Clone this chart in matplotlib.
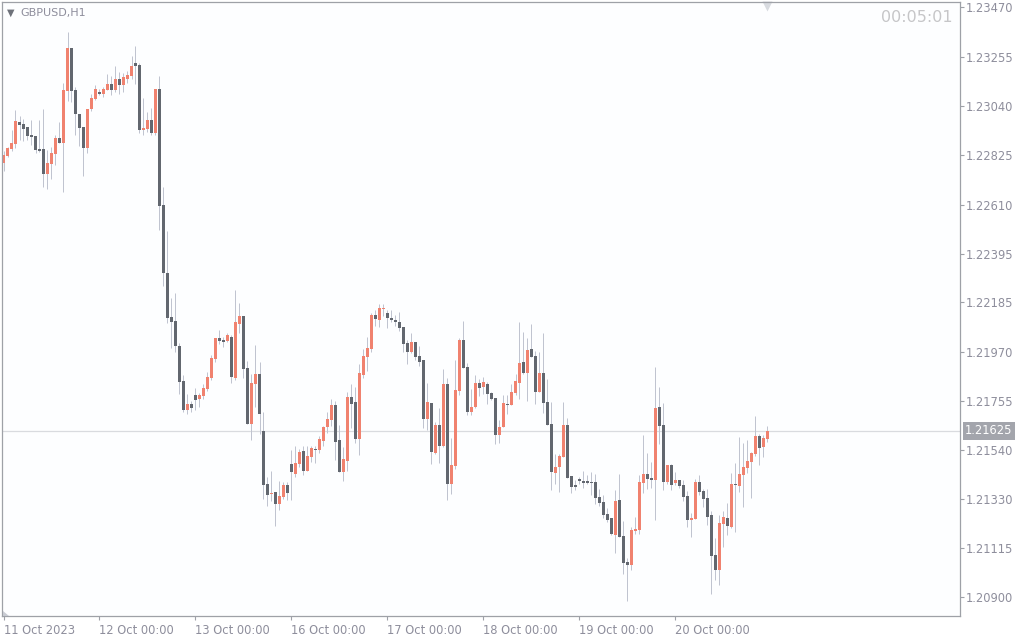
import numpy as np
import pandas as pd
import matplotlib
matplotlib.use("Agg")
import matplotlib.pyplot as plt
import matplotlib.transforms as mtrans
from matplotlib.patches import Polygon

# GBPUSD H1, 11-20 Oct 2023
days = ["2023-10-11", "2023-10-12", "2023-10-13", "2023-10-16",
        "2023-10-17", "2023-10-18", "2023-10-19", "2023-10-20"]

open_ = [
    1.22793, 1.22823, 1.22852, 1.22875, 1.22969, 1.22961, 1.22948, 1.22913, 1.22909, 1.22852,
    1.22852, 1.22743, 1.22787, 1.22832, 1.22900, 1.22880, 1.23106, 1.23293, 1.23109, 1.23003,
    1.22948, 1.22855, 1.23026, 1.23070,
    1.23102, 1.23092, 1.23109, 1.23135, 1.23109, 1.23157, 1.23131, 1.23157, 1.23170, 1.23227,
    1.23218, 1.22935, 1.22939, 1.22978, 1.22923, 1.23113, 1.22608, 1.22314, 1.22121, 1.22103,
    1.21996, 1.21842, 1.21716, 1.21742,
    1.21780, 1.21764, 1.21777, 1.21807, 1.21854, 1.21938, 1.22029, 1.22021, 1.22016, 1.22034,
    1.21855, 1.22090, 1.22125, 1.21899, 1.21655, 1.21829, 1.21873, 1.21624, 1.21394, 1.21350,
    1.21359, 1.21307, 1.21337, 1.21389,
    1.21481, 1.21438, 1.21482, 1.21537, 1.21452, 1.21513, 1.21546, 1.21543, 1.21582, 1.21642,
    1.21672, 1.21738, 1.21585, 1.21446, 1.21494, 1.21772, 1.21751, 1.21591, 1.21870, 1.21948,
    1.21981, 1.22129, 1.22109, 1.22156,
    1.22138, 1.22116, 1.22108, 1.22099, 1.22077, 1.22008, 1.21968, 1.22012, 1.21951, 1.21934,
    1.21677, 1.21746, 1.21529, 1.21650, 1.21559, 1.21829, 1.21394, 1.21472, 1.21799, 1.22021,
    1.21903, 1.21707, 1.21729, 1.21833,
    1.21816, 1.21829, 1.21790, 1.21768, 1.21607, 1.21642, 1.21742, 1.21738, 1.21790, 1.21833,
    1.21925, 1.21877, 1.21981, 1.21951, 1.21794, 1.21877, 1.21751, 1.21655, 1.21442, 1.21468,
    1.21511, 1.21650, 1.21428, 1.21389,
    1.21415, 1.21407, 1.21407, 1.21402, 1.21402, 1.21337, 1.21315, 1.21263, 1.21246, 1.21172,
    1.21324, 1.21167, 1.21054, 1.21041, 1.21189, 1.21193, 1.21398, 1.21437, 1.21420, 1.21411,
    1.21729, 1.21650, 1.21402, 1.21476,
    1.21398, 1.21411, 1.21389, 1.21341, 1.21237, 1.21241, 1.21402, 1.21363, 1.21333, 1.21259,
    1.21085, 1.21019, 1.21220, 1.21246, 1.21206, 1.21394, 1.21385, 1.21433, 1.21463, 1.21489,
    1.21524, 1.21603, 1.21555, 1.21590,
]

high = [
    1.22843, 1.22862, 1.22935, 1.23022, 1.22996, 1.22982, 1.22949, 1.22980, 1.22909, 1.22978,
    1.23026, 1.22848, 1.22862, 1.22913, 1.22970, 1.23138, 1.23363, 1.23293, 1.23124, 1.23003,
    1.22948, 1.23026, 1.23090, 1.23131,
    1.23113, 1.23124, 1.23179, 1.23170, 1.23214, 1.23189, 1.23184, 1.23192, 1.23257, 1.23301,
    1.23225, 1.23074, 1.23013, 1.23031, 1.23113, 1.23170, 1.22687, 1.22495, 1.22203, 1.22227,
    1.22009, 1.21868, 1.21785, 1.21755,
    1.21813, 1.21789, 1.21829, 1.21881, 1.21954, 1.22029, 1.22064, 1.22034, 1.22051, 1.22042,
    1.22238, 1.22183, 1.22125, 1.21929, 1.21873, 1.21999, 1.21925, 1.21707, 1.21424, 1.21450,
    1.21359, 1.21407, 1.21402, 1.21402,
    1.21542, 1.21559, 1.21547, 1.21559, 1.21559, 1.21559, 1.21559, 1.21604, 1.21648, 1.21708,
    1.21765, 1.21755, 1.21650, 1.21555, 1.21794, 1.21829, 1.21816, 1.21916, 1.21981, 1.22034,
    1.22138, 1.22151, 1.22177, 1.22177,
    1.22151, 1.22151, 1.22130, 1.22143, 1.22077, 1.22021, 1.22051, 1.22012, 1.21995, 1.21934,
    1.21833, 1.21746, 1.21664, 1.21725, 1.21894, 1.21855, 1.21594, 1.21934, 1.22029, 1.22103,
    1.21920, 1.21807, 1.21868, 1.21851,
    1.21860, 1.21838, 1.21794, 1.21768, 1.21672, 1.21781, 1.21781, 1.21829, 1.21873, 1.22099,
    1.22055, 1.22029, 1.22090, 1.21973, 1.21968, 1.22051, 1.21851, 1.21751, 1.21524, 1.21524,
    1.21751, 1.21681, 1.21428, 1.21411,
    1.21426, 1.21450, 1.21433, 1.21446, 1.21437, 1.21372, 1.21346, 1.21289, 1.21246, 1.21368,
    1.21437, 1.21233, 1.21071, 1.21206, 1.21250, 1.21433, 1.21607, 1.21529, 1.21489, 1.21903,
    1.21816, 1.21746, 1.21476, 1.21481,
    1.21446, 1.21411, 1.21411, 1.21363, 1.21267, 1.21415, 1.21433, 1.21372, 1.21372, 1.21276,
    1.21159, 1.21259, 1.21276, 1.21311, 1.21442, 1.21485, 1.21598, 1.21572, 1.21585, 1.21533,
    1.21690, 1.21611, 1.21607, 1.21646,
]

low = [
    1.22758, 1.22819, 1.22845, 1.22858, 1.22891, 1.22887, 1.22891, 1.22870, 1.22836, 1.22840,
    1.22687, 1.22678, 1.22720, 1.22781, 1.22880, 1.22666, 1.23061, 1.23058, 1.22913, 1.22867,
    1.22736, 1.22836, 1.23018, 1.23066,
    1.23087, 1.23080, 1.23109, 1.23087, 1.23102, 1.23092, 1.23102, 1.23141, 1.23157, 1.23135,
    1.22923, 1.22914, 1.22926, 1.22914, 1.22914, 1.22500, 1.22257, 1.22096, 1.21987, 1.21970,
    1.21785, 1.21708, 1.21698, 1.21707,
    1.21716, 1.21728, 1.21764, 1.21799, 1.21847, 1.21925, 1.22002, 1.21991, 1.22012, 1.21833,
    1.21847, 1.22051, 1.21855, 1.21655, 1.21585, 1.21730, 1.21611, 1.21328, 1.21298, 1.21320,
    1.21211, 1.21280, 1.21328, 1.21324,
    1.21324, 1.21423, 1.21469, 1.21434, 1.21452, 1.21491, 1.21486, 1.21530, 1.21560, 1.21614,
    1.21646, 1.21498, 1.21446, 1.21408, 1.21450, 1.21639, 1.21573, 1.21521, 1.21856, 1.21887,
    1.21970, 1.22083, 1.22079, 1.22125,
    1.22074, 1.22099, 1.22083, 1.22061, 1.21968, 1.21916, 1.21964, 1.21934, 1.21907, 1.21637,
    1.21629, 1.21481, 1.21524, 1.21485, 1.21555, 1.21324, 1.21350, 1.21459, 1.21781, 1.21899,
    1.21694, 1.21694, 1.21725, 1.21777,
    1.21785, 1.21742, 1.21759, 1.21568, 1.21572, 1.21642, 1.21698, 1.21738, 1.21781, 1.21764,
    1.21873, 1.21755, 1.21947, 1.21742, 1.21794, 1.21703, 1.21650, 1.21368, 1.21394, 1.21359,
    1.21511, 1.21420, 1.21354, 1.21368,
    1.21394, 1.21376, 1.21394, 1.21346, 1.21307, 1.21298, 1.21246, 1.21228, 1.21172, 1.21093,
    1.21163, 1.21002, 1.20884, 1.21019, 1.21176, 1.21176, 1.21354, 1.21372, 1.21376, 1.21237,
    1.21568, 1.21368, 1.21394, 1.21368,
    1.21389, 1.21376, 1.21320, 1.21206, 1.21163, 1.21241, 1.21346, 1.21294, 1.21215, 1.20915,
    1.20976, 1.20954, 1.21119, 1.21172, 1.21202, 1.21185, 1.21359, 1.21294, 1.21442, 1.21333,
    1.21516, 1.21476, 1.21511, 1.21577,
]

close = [
    1.22826, 1.22858, 1.22878, 1.22974, 1.22957, 1.22939, 1.22909, 1.22904, 1.22848, 1.22843,
    1.22743, 1.22793, 1.22836, 1.22900, 1.22880, 1.23109, 1.23293, 1.23105, 1.23003, 1.22945,
    1.22855, 1.23026, 1.23074, 1.23115,
    1.23092, 1.23113, 1.23135, 1.23109, 1.23157, 1.23131, 1.23166, 1.23174, 1.23214, 1.23214,
    1.22935, 1.22944, 1.22978, 1.22923, 1.23113, 1.22605, 1.22314, 1.22118, 1.22100, 1.21996,
    1.21839, 1.21716, 1.21742, 1.21725,
    1.21759, 1.21780, 1.21813, 1.21860, 1.21942, 1.22029, 1.22016, 1.22012, 1.22042, 1.21860,
    1.22099, 1.22125, 1.21894, 1.21655, 1.21833, 1.21873, 1.21698, 1.21389, 1.21346, 1.21354,
    1.21307, 1.21341, 1.21389, 1.21354,
    1.21446, 1.21485, 1.21533, 1.21452, 1.21516, 1.21550, 1.21543, 1.21590, 1.21642, 1.21677,
    1.21738, 1.21578, 1.21446, 1.21502, 1.21772, 1.21743, 1.21591, 1.21877, 1.21951, 1.21986,
    1.22129, 1.22113, 1.22160, 1.22160,
    1.22118, 1.22108, 1.22099, 1.22073, 1.22003, 1.21968, 1.22012, 1.21947, 1.21925, 1.21677,
    1.21751, 1.21533, 1.21650, 1.21559, 1.21829, 1.21394, 1.21476, 1.21803, 1.22021, 1.21899,
    1.21707, 1.21729, 1.21833, 1.21812,
    1.21838, 1.21785, 1.21764, 1.21607, 1.21642, 1.21746, 1.21738, 1.21794, 1.21842, 1.21920,
    1.21877, 1.21977, 1.21947, 1.21794, 1.21877, 1.21746, 1.21650, 1.21446, 1.21468, 1.21516,
    1.21650, 1.21420, 1.21381, 1.21381,
    1.21407, 1.21398, 1.21398, 1.21398, 1.21333, 1.21311, 1.21259, 1.21237, 1.21176, 1.21320,
    1.21163, 1.21050, 1.21041, 1.21193, 1.21198, 1.21402, 1.21437, 1.21415, 1.21411, 1.21725,
    1.21646, 1.21402, 1.21476, 1.21389,
    1.21411, 1.21385, 1.21337, 1.21237, 1.21246, 1.21402, 1.21359, 1.21328, 1.21250, 1.21080,
    1.21019, 1.21224, 1.21250, 1.21211, 1.21394, 1.21389, 1.21437, 1.21468, 1.21494, 1.21529,
    1.21603, 1.21550, 1.21594, 1.21625,
]

price_ticks = [1.23470, 1.23255, 1.23040, 1.22825, 1.22610, 1.22395, 1.22185,
               1.21970, 1.21755, 1.21540, 1.21330, 1.21115, 1.20900]

times = [pd.Timestamp(d) + pd.Timedelta(hours=h) for d in days for h in range(24)]
df = pd.DataFrame({"open": open_, "high": high, "low": low, "close": close}, index=times)

BULL = "#F0826F"
BEAR = "#62676F"
WICK = "#C0C4D0"
TXT = "#8E8E9C"
EDGE = "#9EA1A7"

W, H = 1024, 640
fig = plt.figure(figsize=(W / 100, H / 100), dpi=100)
fig.patch.set_facecolor("white")
# plot box: x 2..960, y 2..616 (pixels)
ax = fig.add_axes([2 / W, (H - 616) / H, 958 / W, 614 / H])
ax.set_facecolor("#FDFEFF")

x = np.arange(len(df))
up = df["close"].values >= df["open"].values
ax.vlines(x, df["low"], df["high"], color=WICK, lw=0.72, zorder=1)
body_lo = np.minimum(df["open"], df["close"])
body_h = np.maximum(np.abs(df["close"] - df["open"]), 0.00003)
ax.bar(x[up], body_h[up], bottom=body_lo[up], width=0.75, color=BULL, lw=0, zorder=2)
ax.bar(x[~up], body_h[~up], bottom=body_lo[~up], width=0.75, color=BEAR, lw=0, zorder=2)

# 4 px per candle, candle centres on pixel centres
ax.set_xlim(-0.375, -0.375 + 958 / 4)
ax.set_ylim(1.208189, 1.234923)

# last price line and label
last = df["close"].iloc[-1]
ax.axhline(last, color="#D9DBDF", lw=0.9, zorder=0)
tr = mtrans.blended_transform_factory(ax.transAxes, ax.transData)
ax.text(1.0 + 5 / 958, last, f"{last:.5f}", transform=tr, ha="left", va="center",
        color="white", fontsize=8.3, clip_on=False,
        bbox=dict(boxstyle="square,pad=0.2", fc="#A3A5AC", ec="none"))

# axes styling
for s in ax.spines.values():
    s.set_color(EDGE)
    s.set_linewidth(0.9)
ax.yaxis.tick_right()
ax.set_yticks(price_ticks, [f"{p:.5f}" for p in price_ticks])
ax.tick_params(axis="y", length=3, width=0.8, color=EDGE, pad=1.5, labelsize=8.3, labelcolor=TXT)

day_idx = [i for i, t in enumerate(df.index) if t.hour == 0]
day_lbl = [df.index[i].strftime("%d Oct %Y") if k == 0 else df.index[i].strftime("%d Oct %H:%M")
           for k, i in enumerate(day_idx)]
ax.set_xticks(day_idx, day_lbl, ha="left")
ax.tick_params(axis="x", length=3, width=0.8, color=EDGE, pad=2.5, labelsize=8.3, labelcolor=TXT)

# header texts
fig.text(7 / W, 1 - 13 / H, "\u25BC", fontsize=7, color="#6E727A", va="center", ha="left")
fig.text(20 / W, 1 - 13 / H, "GBPUSD,H1", fontsize=8, color=TXT, va="center", ha="left")
fig.text(953 / W, 1 - 17 / H, "00:05:01", fontsize=11.5, color="#C6C6C8", va="center", ha="right")

# shift marker at top and small corner marker
ax.plot([191], [1 - 4 / 614], marker="v", ms=7, color="#D8DBE0", mec="none",
        transform=mtrans.blended_transform_factory(ax.transData, ax.transAxes), clip_on=False)
fig.patches.append(Polygon([(3 / W, 1 - 611 / H), (3 / W, 1 - 616 / H), (9 / W, 1 - 616 / H)],
                           closed=True, transform=fig.transFigure, fc="#C8CBD2", ec="none"))

fig.savefig("out.png", dpi=100)
